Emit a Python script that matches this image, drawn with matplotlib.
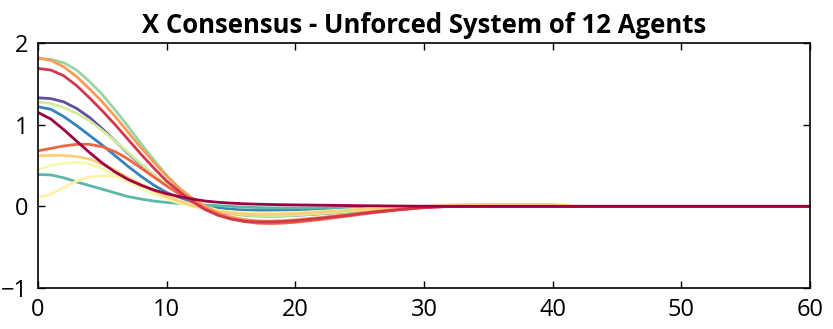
import numpy as np
import matplotlib
matplotlib.use("Agg")
from matplotlib import pyplot as plt

# time samples shared by every agent trajectory
t = [0, 1, 2, 3, 4, 5, 6, 7, 8, 9, 10, 11, 12, 13, 14, 15, 16, 17, 18, 19, 20,
     22, 24, 26, 28, 30, 32, 35, 40, 42, 45, 50, 55, 60]

# x position of each agent over time
x_dark_red = [1.15, 1.07, 0.94, 0.80, 0.66, 0.53, 0.42, 0.33, 0.26, 0.20, 0.155, 0.12, 0.09, 0.065, 0.05, 0.04,
              0.032, 0.027, 0.023, 0.02, 0.018, 0.014, 0.01, 0.007, 0.004, 0.002, 0, 0, 0, 0, 0, 0, 0, 0]
x_red = [1.69, 1.67, 1.60, 1.48, 1.33, 1.17, 1.00, 0.82, 0.64, 0.47, 0.31, 0.18, 0.06, -0.04, -0.11, -0.155,
         -0.18, -0.19, -0.19, -0.185, -0.175, -0.145, -0.11, -0.07, -0.04, -0.015, 0, 0, 0, 0, 0, 0, 0, 0]
x_red_orange = [0.68, 0.71, 0.74, 0.76, 0.76, 0.73, 0.67, 0.58, 0.47, 0.36, 0.25, 0.15, 0.06, -0.03, -0.10, -0.15,
                -0.185, -0.205, -0.21, -0.205, -0.195, -0.16, -0.12, -0.08, -0.045, -0.015, 0, 0, 0, 0, 0, 0, 0, 0]
x_orange = [1.82, 1.79, 1.71, 1.59, 1.44, 1.28, 1.10, 0.91, 0.72, 0.54, 0.37, 0.22, 0.10, 0.0, -0.08, -0.13,
            -0.16, -0.175, -0.18, -0.175, -0.165, -0.135, -0.10, -0.065, -0.035, -0.01, 0, 0, 0, 0, 0, 0, 0, 0]
x_light_orange = [0.62, 0.625, 0.625, 0.61, 0.58, 0.52, 0.44, 0.35, 0.27, 0.19, 0.12, 0.06, 0.01, -0.03, -0.06, -0.08,
                  -0.095, -0.10, -0.10, -0.095, -0.09, -0.07, -0.05, -0.03, -0.015, 0.0, 0.02, 0.025, 0.025, 0, 0, 0, 0, 0]
x_pale_yellow = [0.11, 0.15, 0.23, 0.31, 0.36, 0.375, 0.365, 0.33, 0.275, 0.21, 0.14, 0.075, 0.02, -0.02, -0.05, -0.07,
                 -0.08, -0.085, -0.085, -0.083, -0.08, -0.065, -0.045, -0.03, -0.015, -0.005, 0, 0, 0, 0, 0, 0, 0, 0]
x_pale_green = [0.45, 0.50, 0.53, 0.54, 0.52, 0.46, 0.38, 0.30, 0.22, 0.15, 0.09, 0.04, 0.0, -0.03, -0.05, -0.065,
                -0.075, -0.08, -0.08, -0.078, -0.075, -0.06, -0.045, -0.03, -0.015, -0.005, 0, 0, 0, 0, 0, 0, 0, 0]
x_lime = [1.28, 1.26, 1.21, 1.14, 1.05, 0.93, 0.80, 0.66, 0.52, 0.39, 0.27, 0.16, 0.07, 0.0, -0.05, -0.08,
          -0.10, -0.11, -0.115, -0.11, -0.105, -0.085, -0.06, -0.04, -0.02, -0.005, 0, 0, 0, 0, 0, 0, 0, 0]
x_green = [1.81, 1.80, 1.76, 1.67, 1.53, 1.37, 1.18, 0.98, 0.77, 0.57, 0.38, 0.22, 0.09, -0.01, -0.06, -0.09,
           -0.11, -0.12, -0.125, -0.12, -0.11, -0.09, -0.065, -0.04, -0.02, -0.005, 0, 0, 0, 0, 0, 0, 0, 0]
x_teal = [0.39, 0.385, 0.35, 0.30, 0.255, 0.21, 0.165, 0.12, 0.09, 0.065, 0.048, 0.035, 0.025, 0.016, 0.008, 0.0,
          -0.008, -0.014, -0.018, -0.02, -0.02, -0.018, -0.014, -0.009, -0.005, -0.002, 0, 0, 0, 0, 0, 0, 0, 0]
x_blue = [1.22, 1.19, 1.10, 0.99, 0.87, 0.75, 0.62, 0.49, 0.37, 0.26, 0.17, 0.10, 0.045, 0.005, -0.02, -0.035,
          -0.045, -0.05, -0.05, -0.048, -0.045, -0.035, -0.025, -0.015, -0.008, -0.002, 0, 0, 0, 0, 0, 0, 0, 0]
x_purple = [1.33, 1.32, 1.28, 1.20, 1.09, 0.95, 0.80, 0.65, 0.51, 0.38, 0.26, 0.16, 0.07, 0.0, -0.05, -0.08,
            -0.10, -0.11, -0.115, -0.115, -0.11, -0.09, -0.065, -0.04, -0.02, -0.005, 0, 0, 0, 0, 0, 0, 0, 0]

agents = [x_dark_red, x_red, x_red_orange, x_orange, x_light_orange, x_pale_yellow,
          x_pale_green, x_lime, x_green, x_teal, x_blue, x_purple]

plt.rcParams['font.family'] = ['Open Sans', 'DejaVu Sans']

fig = plt.figure(figsize=(8.33, 3.29), dpi=100)
ax = fig.add_axes([0.0456, 0.1246, 0.9268, 0.7444])

colors = plt.cm.Spectral(np.linspace(0, 1, len(agents)))
# last agents first so the dark red one ends up on top
for i in range(len(agents) - 1, -1, -1):
    ax.plot(t, agents[i], color=colors[i], lw=2.0, solid_joinstyle='round', solid_capstyle='round')

ax.set_xlim(0, 60)
ax.set_ylim(-1, 2)
ax.set_xticks([0, 10, 20, 30, 40, 50, 60])
ax.set_yticks([-1, 0, 1, 2])
ax.tick_params(direction='in', length=5, width=1, top=True, right=True, labelsize=17)
ax.tick_params(axis='x', pad=7)
ax.tick_params(axis='y', pad=7)
for s in ax.spines.values():
    s.set_linewidth(1.2)
ax.set_title("X Consensus - Unforced System of 12 Agents", fontsize=18.5, fontweight='bold', pad=7)

fig.savefig("out.png", dpi=100)
